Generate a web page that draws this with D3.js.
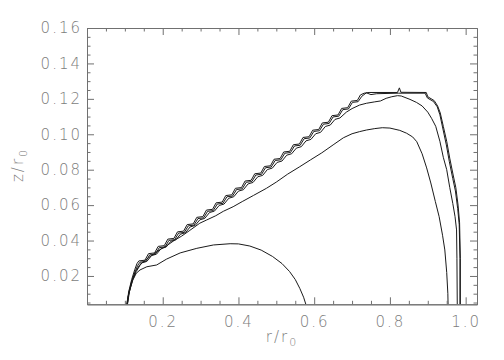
<!DOCTYPE html>
<html>
<head>
<meta charset="utf-8">
<script src="https://cdn.jsdelivr.net/npm/d3@7"></script>
<style>
  body { margin: 0; background: #fff; }
  svg { display: block; }
  text { font-family: "DejaVu Sans", sans-serif; font-weight: 200; opacity: 0.999; }
</style>
</head>
<body>
<svg width="504" height="360"></svg>
<script>
// tick values
var xMajor = [0.2, 0.4, 0.6, 0.8, 1.0];
var xMinor = [0.05, 0.1, 0.15, 0.25, 0.3, 0.35, 0.45, 0.5, 0.55, 0.65, 0.7, 0.75, 0.85, 0.9, 0.95];
var yMajor = [0.02, 0.04, 0.06, 0.08, 0.10, 0.12, 0.14, 0.16];
var yMinor = [0.005, 0.01, 0.015, 0.025, 0.03, 0.035, 0.045, 0.05, 0.055, 0.065, 0.07, 0.075,
              0.085, 0.09, 0.095, 0.105, 0.11, 0.115, 0.125, 0.13, 0.135, 0.145, 0.15, 0.155];

// curves, [r/r0, z/r0]
var stairA = [
  [0.103,0.0],[0.110,0.011],[0.118,0.018],[0.126,0.0235],[0.132,0.027],
  [0.137,0.0285],[0.153,0.0289],[0.1625,0.0326],[0.1785,0.0330],
  [0.188,0.0367],[0.204,0.0371],[0.2135,0.0408],[0.2295,0.0412],
  [0.239,0.0449],[0.255,0.0453],[0.2645,0.0490],[0.2805,0.0494],
  [0.290,0.0531],[0.306,0.0535],[0.3155,0.0572],[0.3315,0.0576],
  [0.341,0.0613],[0.357,0.0617],[0.3665,0.0654],[0.3825,0.0658],
  [0.392,0.0695],[0.408,0.0699],[0.4175,0.0736],[0.4335,0.0740],
  [0.443,0.0777],[0.459,0.0781],[0.4685,0.0818],[0.4845,0.0822],
  [0.494,0.0859],[0.510,0.0863],[0.5195,0.0900],[0.5355,0.0904],
  [0.545,0.0941],[0.561,0.0945],[0.5705,0.0982],[0.5865,0.0986],
  [0.596,0.1023],[0.612,0.1027],[0.6215,0.1064],[0.6375,0.1068],
  [0.647,0.1105],[0.663,0.1109],[0.6725,0.1146],[0.6885,0.1150],
  [0.698,0.1187],[0.714,0.1191],
  [0.722,0.1222],[0.732,0.1232],[0.745,0.1236],[0.820,0.1236],[0.825,0.1262],[0.829,0.1237],
  [0.896,0.1236],[0.900,0.1212],[0.917,0.1190],[0.926,0.1160],[0.933,0.1120],[0.941,0.1045],
  [0.950,0.0960],[0.958,0.0865],[0.967,0.0770],[0.974,0.0700],[0.980,0.0600],[0.984,0.0500],
  [0.986,0.0300],[0.986,0.0]
];

var stairB = [
  [0.104,0.0],[0.111,0.011],[0.120,0.018],[0.128,0.023],[0.134,0.026],
  [0.140,0.0278],[0.155,0.0282],[0.1655,0.0319],[0.1805,0.0323],
  [0.191,0.0360],[0.206,0.0364],[0.2165,0.0401],[0.2315,0.0405],
  [0.242,0.0442],[0.257,0.0446],[0.2675,0.0483],[0.2825,0.0487],
  [0.293,0.0524],[0.308,0.0528],[0.3185,0.0565],[0.3335,0.0569],
  [0.344,0.0606],[0.359,0.0610],[0.3695,0.0647],[0.3845,0.0651],
  [0.395,0.0688],[0.410,0.0692],[0.4205,0.0729],[0.4355,0.0733],
  [0.446,0.0770],[0.461,0.0774],[0.4715,0.0811],[0.4865,0.0815],
  [0.497,0.0852],[0.512,0.0856],[0.5225,0.0893],[0.5375,0.0897],
  [0.548,0.0934],[0.563,0.0938],[0.5735,0.0975],[0.5885,0.0979],
  [0.599,0.1016],[0.614,0.1020],[0.6245,0.1057],[0.6395,0.1061],
  [0.650,0.1098],[0.665,0.1102],[0.6755,0.1139],[0.6905,0.1143],
  [0.701,0.1180],[0.716,0.1184],
  [0.726,0.1215],[0.738,0.1234],[0.750,0.1224],[0.765,0.1229],[0.822,0.1232],[0.893,0.1232],
  [0.899,0.1205],[0.915,0.1185],[0.925,0.1155],[0.932,0.1110],[0.940,0.1030],[0.949,0.0940],
  [0.957,0.0845],[0.966,0.0750],[0.973,0.0680],[0.979,0.0580],[0.983,0.0490],[0.985,0.0300],
  [0.985,0.0]
];

var innerStair = [
  [0.104,0.0],[0.112,0.011],[0.120,0.0175],[0.130,0.0225],[0.140,0.026],
  [0.145,0.0274],[0.158,0.0282],[0.1705,0.0315],[0.1835,0.0323],
  [0.196,0.0355],[0.209,0.0363],[0.2215,0.0396],[0.2345,0.0404],
  [0.247,0.0436],[0.260,0.0444],[0.2725,0.0477],[0.2855,0.0485],
  [0.298,0.0517],[0.311,0.0525],[0.3235,0.0558],[0.3365,0.0566],
  [0.349,0.0598],[0.362,0.0606],[0.3745,0.0639],[0.3875,0.0647],
  [0.400,0.0679],[0.413,0.0687],[0.4255,0.0720],[0.4385,0.0728],
  [0.451,0.0760],[0.464,0.0768],[0.4765,0.0801],[0.4895,0.0809],
  [0.502,0.0841],[0.515,0.0849],[0.5275,0.0882],[0.5405,0.0890],
  [0.553,0.0922],[0.566,0.0930],[0.5785,0.0963],[0.5915,0.0971],
  [0.604,0.1003],[0.617,0.1011],[0.6295,0.1044],[0.6425,0.1052],
  [0.655,0.1084],[0.668,0.1092],
  [0.685,0.1125],[0.700,0.1145],[0.720,0.1165],[0.738,0.1175],[0.760,0.1183],[0.775,0.1188],
  [0.790,0.1203],[0.805,0.1212],[0.820,0.1218],[0.830,0.1216],[0.853,0.1197],[0.870,0.1180],
  [0.885,0.1160],[0.900,0.1125],[0.910,0.1090],[0.921,0.1045],[0.932,0.0960],[0.941,0.0870],
  [0.950,0.0800],[0.958,0.0700],[0.966,0.0610],[0.972,0.0535],[0.976,0.0460],[0.977,0.0300],
  [0.978,0.0]
];

var middle = [
  [0.104,0.0],[0.110,0.010],[0.118,0.017],[0.128,0.0225],[0.140,0.0265],[0.155,0.029],
  [0.170,0.0315],[0.190,0.0345],[0.210,0.037],[0.230,0.040],[0.250,0.0425],[0.270,0.0455],
  [0.298,0.0498],[0.316,0.0516],[0.340,0.054],[0.360,0.0565],[0.386,0.0591],[0.410,0.062],
  [0.440,0.0655],[0.474,0.0695],[0.500,0.073],[0.530,0.0775],[0.562,0.0817],[0.590,0.0855],
  [0.620,0.0895],[0.650,0.094],[0.677,0.098],[0.700,0.1003],[0.720,0.1015],[0.738,0.1024],
  [0.760,0.1032],[0.780,0.1037],[0.800,0.1035],[0.826,0.1022],[0.844,0.1006],[0.860,0.0985],
  [0.871,0.0958],[0.885,0.089],[0.897,0.081],[0.908,0.0725],[0.920,0.062],[0.930,0.0535],
  [0.939,0.043],[0.945,0.0347],[0.950,0.022],[0.953,0.010],[0.954,0.0]
];

var dome = [
  [0.102,0.0],[0.108,0.008],[0.115,0.0135],[0.121,0.0177],[0.130,0.0215],[0.140,0.0234],
  [0.158,0.0252],[0.184,0.0262],[0.210,0.0295],[0.246,0.033],[0.290,0.0356],[0.334,0.0375],
  [0.378,0.0382],[0.400,0.0381],[0.430,0.0369],[0.460,0.0346],[0.490,0.031],[0.515,0.027],
  [0.535,0.0225],[0.550,0.018],[0.562,0.013],[0.572,0.008],[0.578,0.004],[0.582,0.0]
];

var curves = [stairA, stairB, innerStair, middle, dome];

var svg = d3.select("svg"),
    plotLeft = 87, plotRight = 477, plotTop = 28, plotBottom = 304.3;

var x = d3.scaleLinear().domain([0, 1.03]).range([plotLeft, plotRight]);
var y = d3.scaleLinear().domain([0.004, 0.16]).range([plotBottom, plotTop]);

var axisColor = "#707070", textColor = "#7c7c7c";

svg.append("clipPath").attr("id", "plot")
  .append("rect")
  .attr("x", plotLeft).attr("y", plotTop)
  .attr("width", plotRight - plotLeft).attr("height", plotBottom - plotTop);

// the curves
var line = d3.line()
  .x(function(d) { return x(d[0]); })
  .y(function(d) { return y(d[1]); });

svg.append("g").attr("clip-path", "url(#plot)")
  .selectAll("path")
  .data(curves)
  .enter().append("path")
  .attr("d", line)
  .attr("fill", "none")
  .attr("stroke", "#1a1a1a")
  .attr("stroke-width", 1);

// axes, ticks drawn inward on all four sides
function styleAxis(g) {
  g.select(".domain").attr("stroke", axisColor);
  g.selectAll(".tick line").attr("stroke", axisColor);
  g.selectAll(".tick text").attr("fill", textColor)
    .style("font-family", "DejaVu Sans, sans-serif").style("font-weight", 200)
    .style("font-size", "15px").style("letter-spacing", "2px");
}

svg.append("g").attr("transform", "translate(0," + plotBottom + ")")
  .call(d3.axisBottom(x).tickValues(xMajor).tickSizeInner(-7).tickSizeOuter(0)
    .tickPadding(12).tickFormat(d3.format(".1f")))
  .call(styleAxis);
svg.append("g").attr("transform", "translate(0," + plotBottom + ")")
  .call(d3.axisBottom(x).tickValues(xMinor).tickSizeInner(-3.5).tickSizeOuter(0).tickFormat(""))
  .call(styleAxis);

svg.append("g").attr("transform", "translate(0," + plotTop + ")")
  .call(d3.axisTop(x).tickValues(xMajor).tickSizeInner(-7).tickSizeOuter(0).tickFormat(""))
  .call(styleAxis);
svg.append("g").attr("transform", "translate(0," + plotTop + ")")
  .call(d3.axisTop(x).tickValues(xMinor).tickSizeInner(-3.5).tickSizeOuter(0).tickFormat(""))
  .call(styleAxis);

svg.append("g").attr("transform", "translate(" + plotLeft + ",0)")
  .call(d3.axisLeft(y).tickValues(yMajor).tickSizeInner(-7).tickSizeOuter(0)
    .tickPadding(5).tickFormat(d3.format(".2f")))
  .call(styleAxis);
svg.append("g").attr("transform", "translate(" + plotLeft + ",0)")
  .call(d3.axisLeft(y).tickValues(yMinor).tickSizeInner(-3.5).tickSizeOuter(0).tickFormat(""))
  .call(styleAxis);

svg.append("g").attr("transform", "translate(" + plotRight + ",0)")
  .call(d3.axisRight(y).tickValues(yMajor).tickSizeInner(-7).tickSizeOuter(0).tickFormat(""))
  .call(styleAxis);
svg.append("g").attr("transform", "translate(" + plotRight + ",0)")
  .call(d3.axisRight(y).tickValues(yMinor).tickSizeInner(-3.5).tickSizeOuter(0).tickFormat(""))
  .call(styleAxis);

// axis titles
var xt = svg.append("text")
  .attr("x", (plotLeft + plotRight) / 2).attr("y", 342)
  .attr("text-anchor", "middle")
  .attr("fill", textColor)
  .style("font-size", "15px").style("letter-spacing", "2px");
xt.append("tspan").text("r/r");
xt.append("tspan").attr("dy", 4).style("font-size", "11px").text("0");

var yt = svg.append("text")
  .attr("transform", "translate(23,165) rotate(-90)")
  .attr("text-anchor", "middle")
  .attr("fill", textColor)
  .style("font-size", "15px").style("letter-spacing", "2px");
yt.append("tspan").text("z/r");
yt.append("tspan").attr("dy", 4).style("font-size", "11px").text("0");
</script>
</body>
</html>
